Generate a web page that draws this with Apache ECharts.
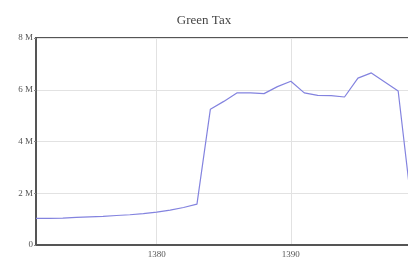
<!DOCTYPE html>
<html>
<head>
<meta charset="utf-8">
<style>
  html, body { margin: 0; padding: 0; background: #fff; }
  #chart { width: 408px; height: 262px; }
</style>
<script src="https://cdn.jsdelivr.net/npm/echarts@6/dist/echarts.min.js"></script>
</head>
<body>
<div id="chart"></div>
<script>
// Green Tax, values in millions, by year
const years = [1371, 1372, 1373, 1374, 1375, 1376, 1377, 1378, 1379, 1380,
  1381, 1382, 1383, 1384, 1385, 1386, 1387, 1388, 1389, 1390,
  1391, 1392, 1393, 1394, 1395, 1396, 1397, 1398, 1399]
const taxValues = [1.03, 1.03, 1.04, 1.07, 1.09, 1.11, 1.14, 1.17, 1.21, 1.27,
  1.35, 1.45, 1.58, 5.25, 5.55, 5.88, 5.88, 5.85, 6.12, 6.33,
  5.88, 5.78, 5.77, 5.72, 6.45, 6.65, 6.3, 5.95, 1.5]
const yTicks = [0, 2, 4, 6, 8]

const FONT = '"Liberation Serif", "DejaVu Serif", serif'
const LINE = '#8383df'

const chart = echarts.init(document.getElementById('chart'))
chart.setOption({
  animation: false,
  backgroundColor: '#fff',
  textStyle: { fontFamily: FONT },
  title: {
    text: 'Green Tax',
    left: 'center',
    top: 9,
    textStyle: { fontFamily: FONT, fontSize: 13, fontWeight: 'normal', color: '#444' },
  },
  grid: {
    left: 36, right: -17, top: 38, bottom: 17,
    outerBoundsMode: 'none',
    containLabel: false,
    show: true, borderColor: '#555', borderWidth: 2,
  },
  xAxis: {
    type: 'value',
    min: years[0],
    max: 1400,
    splitNumber: 3,
    axisLine: { lineStyle: { color: '#555', width: 2 } },
    axisTick: { show: false },
    axisLabel: {
      showMinLabel: false,
      color: '#555',
      fontFamily: FONT,
      fontSize: 9,
      margin: 5,
      formatter: (v) => String(v),
    },
    splitLine: { lineStyle: { color: '#e2e2e2', width: 1 } },
  },
  yAxis: {
    type: 'value',
    min: yTicks[0],
    max: yTicks[yTicks.length - 1],
    interval: 2,
    axisLine: { show: true, lineStyle: { color: '#555', width: 2 } },
    axisTick: { show: true, length: 2, lineStyle: { color: '#888' } },
    axisLabel: {
      color: '#555',
      fontFamily: FONT,
      fontSize: 9,
      margin: 3,
      formatter: (v) => (v === 0 ? '0' : v + ' M'),
    },
    splitLine: { lineStyle: { color: '#e2e2e2', width: 1 } },
  },
  series: [{
    type: 'line',
    data: years.map((y, i) => [y, taxValues[i]]),
    showSymbol: false,
    lineStyle: { color: LINE, width: 1.2 },
  }],
})
</script>
</body>
</html>
